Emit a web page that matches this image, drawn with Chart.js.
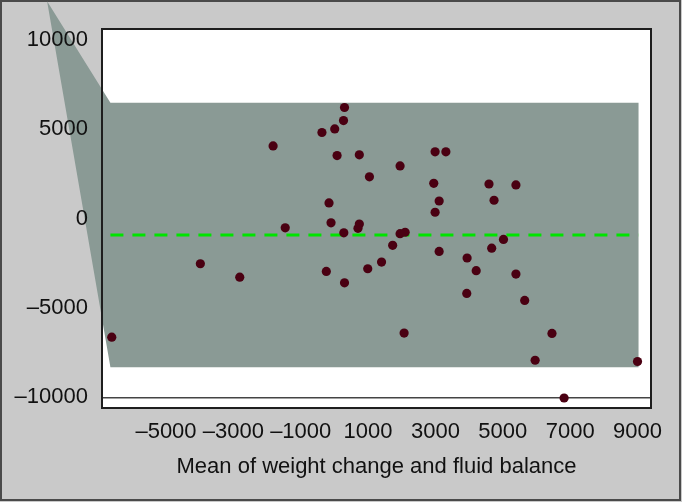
<!DOCTYPE html>
<html>
<head>
<meta charset="utf-8">
<title>Weight change vs fluid balance</title>
<script src="https://cdn.jsdelivr.net/npm/chart.js@4.4.1/dist/chart.umd.min.js"></script>
<style>
    html, body { margin: 0; padding: 0; background: #c9c9c9; }
    canvas { display: block; }
</style>
</head>
<body>
<canvas id="chart" width="682" height="502"></canvas>
<script>
// Mean of weight change and fluid balance (x) and their difference (y)
const meanValues = [-6610, -3980, -2810, -1820, -1460, -370, -240, -160, -100, 10,
    80, 270, 300, 280, 300, 740, 740, 700, 990, 1040,
    1400, 1730, 1950, 1950, 2100, 2070, 2950, 2990, 2990, 3110,
    3110, 3310, 3930, 3940, 4210, 4590, 4670, 4740, 5020, 5390,
    5390, 5650, 5960, 6460, 6820, 9000];
const diffValues = [-6640, -2530, -3280, 4060, -520, 4810, -2960, 870, -240, 5010,
    3520, 5480, 6210, -800, -3600, 3560, -310, -550, -2810, 2330,
    -2440, -1500, 2940, -850, -770, -6410, 1970, 3730, 350, 980,
    -1840, 3730, -4190, -2210, -2920, 1930, -1660, 1020, -1170, 1880,
    -3110, -4580, -7930, -6430, -10040, -8000];

// Bias and limits of agreement
const biasValue = -925;
const upperLimit = 6470;
const lowerLimit = -8320;

// Outline of the shaded agreement band (first vertex is the stray corner of the original)
const bandX = [-8530, -6650, 9030, 9030, -6650];
const bandY = [12150, upperLimit, upperLimit, lowerLimit, lowerLimit];

// Axis ticks
const xTicks = [-5000, -3000, -1000, 1000, 3000, 5000, 7000, 9000];
const yTicks = [-10000, -5000, 0, 5000, 10000];

const chartColors = {
    page: '#c9c9c9',
    frame: '#4a4a4a',
    plot: '#ffffff',
    box: '#1e1e1e',
    band: '#8a9a95',
    point: '#4a0012',
    bias: '#00e400',
    text: '#111111'
};

const fontFamily = "'Liberation Sans', Arial, sans-serif";
const narrowFamily = "'Liberation Sans Narrow', 'Arial Narrow', 'Liberation Sans', Arial, sans-serif";

// Use a real minus-like dash, as in the original
function fmt(v) {
    return v < 0 ? '\u2013' + Math.abs(v) : String(v);
}

// Page background, outer frame, white plot area and the agreement band.
// Everything here goes under the tick labels; the band is placed through the chart scales.
const framePlugin = {
    id: 'frame',
    beforeDraw(chart) {
        const { ctx, chartArea: a, scales } = chart;
        ctx.save();
        ctx.fillStyle = chartColors.page;
        ctx.fillRect(0, 0, chart.width, chart.height);
        ctx.strokeStyle = chartColors.frame;
        ctx.lineWidth = 2;
        ctx.strokeRect(1, 1, chart.width - 3, chart.height - 3);
        ctx.fillStyle = chartColors.plot;
        ctx.fillRect(a.left, a.top, a.right - a.left, a.bottom - a.top);

        ctx.beginPath();
        bandX.forEach((x, i) => {
            const px = scales.x.getPixelForValue(x);
            const py = scales.y.getPixelForValue(bandY[i]);
            if (i === 0) ctx.moveTo(px, py); else ctx.lineTo(px, py);
        });
        ctx.closePath();
        ctx.fillStyle = chartColors.band;
        ctx.fill();
        ctx.restore();
    },
    afterDatasetsDraw(chart) {
        const { ctx, chartArea: a } = chart;
        ctx.save();
        ctx.strokeStyle = chartColors.box;
        ctx.lineWidth = 2;
        ctx.strokeRect(a.left, a.top, a.right - a.left, a.bottom - a.top);
        ctx.restore();
    }
};

const ctx = document.getElementById('chart');

new Chart(ctx, {
    type: 'scatter',
    data: {
        datasets: [{
            label: 'Patients',
            data: meanValues.map((x, i) => ({ x, y: diffValues[i] })),
            backgroundColor: chartColors.point,
            borderWidth: 0,
            pointRadius: 4.6,
            order: 0
        }, {
            label: 'Bias',
            type: 'line',
            data: [{ x: bandX[1], y: biasValue }, { x: bandX[2], y: biasValue }],
            borderColor: chartColors.bias,
            borderWidth: 3,
            borderDash: [13, 9],
            pointRadius: 0,
            fill: false,
            order: 1
        }]
    },
    options: {
        responsive: false,
        animation: false,
        devicePixelRatio: 1,
        layout: {
            padding: { top: 29, right: 31, left: 0, bottom: 0 }
        },
        plugins: {
            legend: { display: false },
            tooltip: { enabled: false }
        },
        scales: {
            x: {
                type: 'linear',
                min: -6900,
                max: 9400,
                afterFit: (scale) => { scale.height = 94; },
                afterBuildTicks: (scale) => { scale.ticks = xTicks.map(v => ({ value: v })); },
                grid: { display: false, drawTicks: false },
                border: { display: false },
                ticks: {
                    padding: 11,
                    color: chartColors.text,
                    font: { family: narrowFamily, size: 22 },
                    maxRotation: 0,
                    autoSkip: false,
                    callback: (v) => fmt(v)
                },
                title: {
                    display: true,
                    text: 'Mean of weight change and fluid balance',
                    color: chartColors.text,
                    font: { family: fontFamily, size: 22 },
                    padding: { top: 0, bottom: 22 }
                }
            },
            y: {
                type: 'linear',
                min: -10600,
                max: 10600,
                afterFit: (scale) => { scale.width = 102; },
                afterBuildTicks: (scale) => { scale.ticks = yTicks.map(v => ({ value: v })); },
                grid: {
                    drawTicks: false,
                    lineWidth: 1.5,
                    color: (c) => (c.tick && c.tick.value === -10000) ? '#444444' : 'rgba(0,0,0,0)'
                },
                border: { display: false },
                ticks: {
                    padding: 14,
                    color: chartColors.text,
                    font: { family: fontFamily, size: 22 },
                    autoSkip: false,
                    callback: (v) => fmt(v)
                }
            }
        }
    },
    plugins: [framePlugin]
});
</script>
</body>
</html>
